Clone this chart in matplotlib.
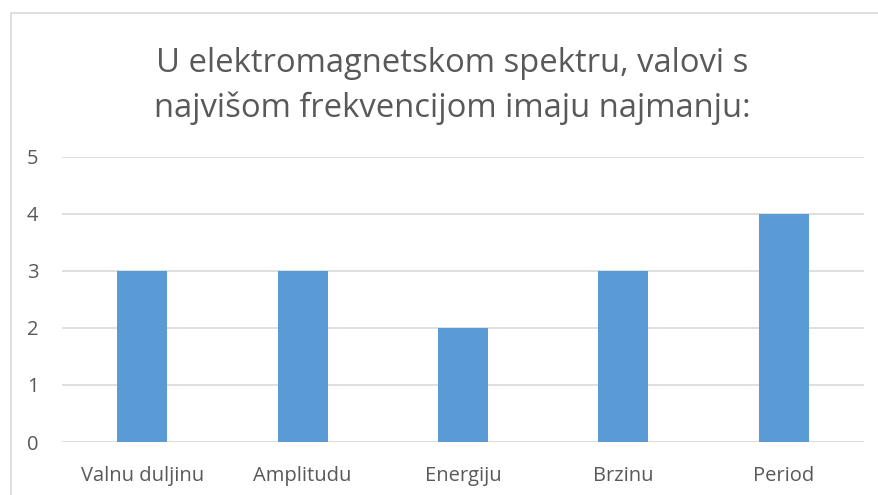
import matplotlib
matplotlib.use("Agg")
import matplotlib.pyplot as plt
from matplotlib.patches import Rectangle

categories = ["Valnu duljinu", "Amplitudu", "Energiju", "Brzinu", "Period"]
values = [3, 3, 2, 3, 4]
yticks = [0, 1, 2, 3, 4, 5]
title = "U elektromagnetskom spektru, valovi s\nnajvišom frekvencijom imaju najmanju:"

W, H = 879, 495
fig = plt.figure(figsize=(W / 100, H / 100), dpi=100)
fig.patch.set_facecolor("white")
plt.rcParams['font.family'] = ['Open Sans', 'DejaVu Sans']

# chart border
fig.patches.append(Rectangle((10.5 / W, -0.05), 1.2, 1 - 12.5 / H + 0.05,
                             transform=fig.transFigure, fill=False,
                             edgecolor="#D9D9D9", linewidth=1.2))

ax = fig.add_axes([62 / W, 1 - 442 / H, (864 - 62) / W, (442 - 156.6) / H])
x = range(len(categories))
ax.bar(x, values, width=0.312, color="#5B9BD5", zorder=3)
ax.set_xlim(-0.5, len(categories) - 0.5)
ax.set_ylim(0, 5)
ax.set_yticks(yticks)
ax.set_xticks(list(x))
ax.set_xticklabels(categories)
ax.grid(axis="y", color="#D9D9D9", linewidth=1.2, zorder=0)
for s in ax.spines.values():
    s.set_visible(False)
ax.tick_params(axis="both", length=0, labelsize=14.5, colors="#595959")
ax.tick_params(axis="y", pad=17)
ax.tick_params(axis="x", pad=17)
ax.set_axisbelow(True)

fig.text(452 / W, 1 - 86 / H, title, ha="center", va="center",
         fontsize=23.6, color="#595959", linespacing=1.42)

fig.savefig("out.png", dpi=100)
